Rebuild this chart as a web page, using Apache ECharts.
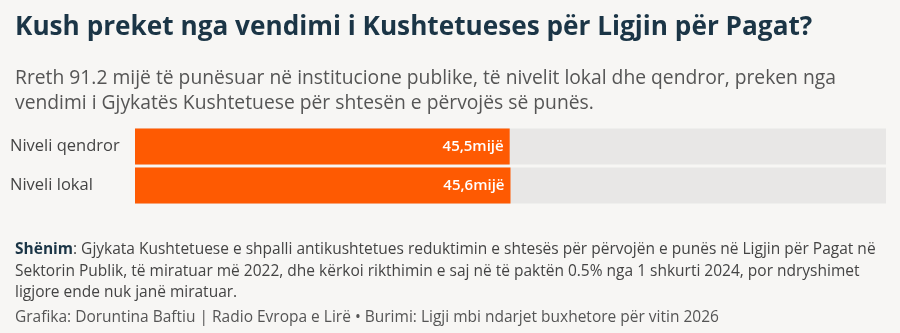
<!DOCTYPE html>
<html>
<head>
<meta charset="utf-8">
<script src="https://cdn.jsdelivr.net/npm/echarts@6/dist/echarts.min.js"></script>
<style>
  html, body { margin: 0; padding: 0; background: #f7f6f4; }
  #chart { width: 900px; height: 333px; }
</style>
</head>
<body>
<div id="chart"></div>
<script>
// të dhënat (mijë të punësuar)
const categories = ["Niveli qendror", "Niveli lokal"];
const values = [45.5, 45.6];
const total = 91.2;

const FONT = "'Open Sans', 'Noto Sans', sans-serif";

const chart = echarts.init(document.getElementById("chart"));
chart.setOption({
    backgroundColor: "#f7f6f4",
    animation: false,
    title: [
        {
            text: "Kush preket nga vendimi i Kushtetueses për Ligjin për Pagat?",
            left: 10,
            top: 10,
            textStyle: { fontFamily: FONT, fontSize: 26.2, fontWeight: "bold", color: "#1b3546" },
        },
        {
            text: "Rreth 91.2 mijë të punësuar në institucione publike, të nivelit lokal dhe qendror, preken nga\nvendimi i Gjykatës Kushtetuese për shtesën e përvojës së punës.",
            left: 10,
            top: 61,
            textStyle: { fontFamily: FONT, fontSize: 19.3, fontWeight: "normal", color: "#555", lineHeight: 25 },
        },
        {
            text: "{b|Shënim}: Gjykata Kushtetuese e shpalli antikushtetues reduktimin e shtesës për përvojën e punës në Ligjin për Pagat në\nSektorin Publik, të miratuar më 2022, dhe kërkoi rikthimin e saj në të paktën 0.5% nga 1 shkurti 2024, por ndryshimet\nligjore ende nuk janë miratuar.",
            left: 10,
            top: 234,
            textStyle: {
                fontFamily: FONT, fontSize: 15.5, fontWeight: "normal", color: "#444", lineHeight: 21.5,
                rich: { b: { fontFamily: FONT, fontSize: 15.5, fontWeight: "bold", color: "#1b3546" } },
            },
        },
        {
            text: "Grafika: Doruntina Baftiu | Radio Evropa e Lirë • Burimi: Ligji mbi ndarjet buxhetore për vitin 2026",
            left: 10,
            top: 305,
            textStyle: { fontFamily: FONT, fontSize: 15.5, fontWeight: "normal", color: "#555" },
        },
    ],
    grid: { left: 135, right: 14, top: 127, height: 78 },
    xAxis: { type: "value", min: 0, max: total, show: false },
    yAxis: {
        type: "category",
        data: categories,
        inverse: true,
        axisLine: { show: false },
        axisTick: { show: false },
        axisLabel: { align: "left", margin: 125, fontFamily: FONT, fontSize: 16.5, color: "#444" },
    },
    series: [
        {
            type: "bar",
            data: values,
            barWidth: 36,
            itemStyle: { color: "#fe5a02" },
            showBackground: true,
            backgroundStyle: { color: "#e8e7e6" },
            label: {
                show: true,
                position: "insideRight",
                distance: 6,
                formatter: (p) => String(p.value).replace(".", ",") + "mijë",
                fontFamily: FONT,
                fontSize: 15,
                fontWeight: 600,
                color: "#fff",
            },
        },
    ],
});
</script>
</body>
</html>
